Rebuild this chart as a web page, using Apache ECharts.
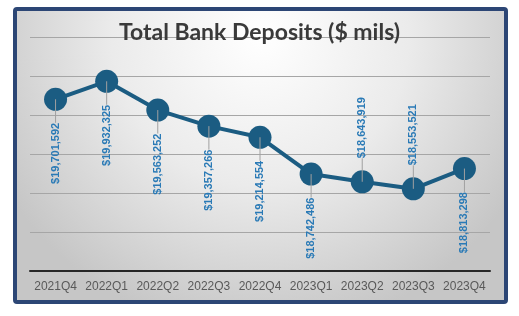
<!DOCTYPE html>
<html>
<head>
<meta charset="utf-8">
<script src="https://cdn.jsdelivr.net/npm/echarts@6/dist/echarts.min.js"></script>
<style>
html,body{margin:0;padding:0;background:#fff;}
#chart{width:519px;height:316px;}
</style>
</head>
<body>
<div id="chart"></div>
<script>
var titleText = 'Total Bank Deposits ($ mils)';
var categories = ['2021Q4','2022Q1','2022Q2','2022Q3','2022Q4','2023Q1','2023Q2','2023Q3','2023Q4'];
var deposits = [19701592, 19932325, 19563252, 19357266, 19214554, 18742486, 18643919, 18553521, 18813298];
var labelAbove = [false, false, false, false, false, false, true, true, false];

var LABEL_GAP = 12;
var SYM = 23;

function fmt(v){ return '$' + v.toLocaleString('en-US'); }

var lineData = deposits.map(function(v, i){
  var above = labelAbove[i];
  return {
    value: v,
    label: {
      position: above ? 'top' : 'bottom',
      align: above ? 'left' : 'right'
    }
  };
});

var chart = echarts.init(document.getElementById('chart'));
chart.setOption({
  animation: false,
  graphic: [{
    type: 'rect',
    z: -10,
    silent: true,
    shape: {x: 15, y: 9, width: 491, height: 293, r: 2},
    style: {
      stroke: '#2c4675',
      lineWidth: 4,
      fill: {
        type: 'radial', x: 0.5, y: 0.1, r: 1.0,
        colorStops: [
          {offset: 0, color: '#ffffff'},
          {offset: 0.5, color: '#ebebeb'},
          {offset: 1, color: '#c6c6c6'}
        ]
      }
    }
  }],
  title: {
    text: titleText,
    left: 'center',
    top: 21,
    padding: 0,
    textStyle: {fontFamily: 'Lato', fontWeight: 'bold', fontSize: 23, color: '#3a3a3a'}
  },
  grid: {left: 30, right: 29, top: 37, bottom: 45},
  xAxis: {
    type: 'category',
    data: categories,
    boundaryGap: true,
    axisLine: {lineStyle: {color: '#262626', width: 2}},
    axisTick: {show: false},
    axisLabel: {interval: 0, color: '#595959', fontSize: 12, fontFamily: 'Liberation Sans', margin: 10}
  },
  yAxis: {
    type: 'value',
    min: 17500000, max: 20500000, interval: 500000,
    axisLabel: {show: false},
    axisLine: {show: false},
    axisTick: {show: false},
    splitLine: {lineStyle: {color: '#a6a6a6', width: 1}}
  },
  series: [{
    type: 'line',
    data: lineData,
    symbol: 'circle',
    symbolSize: SYM,
    z: 2,
    lineStyle: {color: '#1b5c82', width: 4},
    itemStyle: {color: '#1b5c82'},
    label: {
      show: true,
      rotate: 90,
      distance: LABEL_GAP,
      verticalAlign: 'middle',
      color: '#2a7ab6',
      fontFamily: 'Liberation Sans',
      fontWeight: 'bold',
      fontSize: 11,
      formatter: function(p){ return fmt(p.value); }
    }
  }, {
    type: 'custom',
    z: 5,
    silent: true,
    data: deposits.map(function(v, i){ return [i, v]; }),
    renderItem: function(params, api){
      var i = api.value(0);
      var pt = api.coord([i, api.value(1)]);
      var len = SYM / 2 + LABEL_GAP;
      var dir = labelAbove[params.dataIndex] ? -1 : 1;
      return {
        type: 'line',
        shape: {x1: pt[0], y1: pt[1], x2: pt[0], y2: pt[1] + dir * len},
        style: {stroke: '#a0a0a0', lineWidth: 1}
      };
    }
  }]
});
</script>
</body>
</html>
